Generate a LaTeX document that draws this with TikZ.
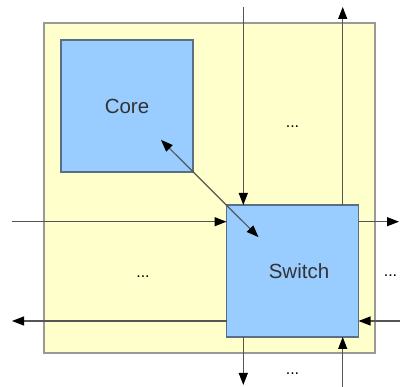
\documentclass[tikz,border=0pt]{standalone}
\usepackage{fontspec}
\setmainfont{Liberation Sans}
\usepackage{tikz}
\usetikzlibrary{arrows.meta, calc}

\definecolor{chipfill}{HTML}{FFFFCC}
\definecolor{chipline}{HTML}{999999}
\definecolor{unitfill}{HTML}{99CCFF}
\definecolor{unitline}{HTML}{5A6E85}
\definecolor{wire}{HTML}{555555}
\definecolor{txt}{HTML}{333333}

\begin{document}
\begin{tikzpicture}[x=1pt, y=-1pt,
  chipbox/.style={rectangle, draw=chipline, fill=chipfill, line width=1.2pt,
                  inner sep=0pt, outer sep=0pt},
  unit/.style={rectangle, draw=unitline, fill=unitfill, line width=1.1pt,
               inner sep=0pt, outer sep=0pt, minimum width=132pt,
               minimum height=132pt, text=txt, font=\fontsize{20.5}{24}\selectfont},
  arr/.style={-{Triangle[length=12pt, width=9pt, color=black]}, draw=wire, line width=1.2pt},
  arrb/.style={{Triangle[length=12pt, width=9pt, color=black]}-{Triangle[length=12pt, width=9pt, color=black]},
               draw=wire, line width=1.2pt},
  more/.style={font=\fontsize{16}{18}\selectfont, text=black},
]
\useasboundingbox (0,0) rectangle (400,387);

\node[chipbox, minimum width=331pt, minimum height=330pt] (chip) at (209.5,188) {};
\node[unit] (core) at (127,106) {Core};
\node[unit] (sw)   at (292.5,271) {\hspace*{13pt}Switch};

% free ends of the links
\coordinate (topin)    at (243.3,7);
\coordinate (topout)   at (342.7,7);
\coordinate (leftin)   at (12,221.7);
\coordinate (rightout) at (399,221.7);
\coordinate (leftout)  at (12,321);
\coordinate (rightin)  at (400,321);
\coordinate (botout)   at (243.3,385);
\coordinate (botin)    at (342.7,387);

\draw[arr] (topin) -- (topin |- sw.north);
\draw[arr] (topout |- sw.north) -- (topout);
\draw[arr] (leftin) -- (leftin -| sw.west);
\draw[arr] (rightout -| sw.east) -- (rightout);
\draw[arr] (leftout -| sw.west) -- (leftout);
\draw[arr] (rightin) -- (rightin -| sw.east);
\draw[arr] (botout |- sw.south) -- (botout);
\draw[arr] (botin) -- (botin |- sw.south);

\draw[arrb, shorten <=48pt, shorten >=48pt] (core.center) -- (sw.center);

\node[more] (m1) at (292.5,127) {...};
\node[more] (m2) at (143,277) {...};
\node[more] (m3) at (390.5,276) {...};
\node[more] (m4) at (292.5,374) {...};
\end{tikzpicture}
\end{document}
